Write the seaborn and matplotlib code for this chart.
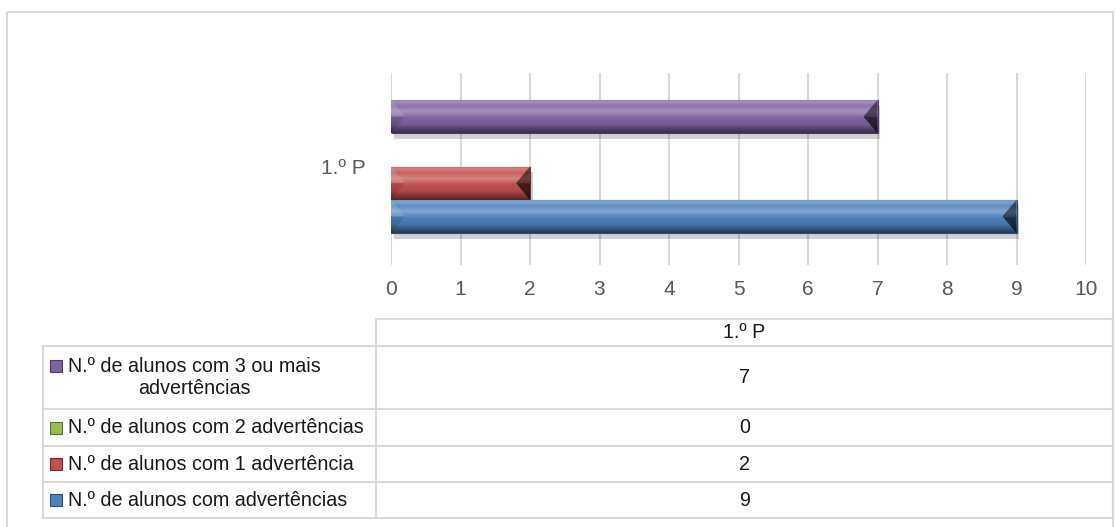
import numpy as np
import pandas as pd
import seaborn as sns
import matplotlib.pyplot as plt
from matplotlib.colors import to_rgb
from matplotlib.patches import Rectangle, Polygon
from matplotlib import patheffects

# data
periods = ["1.º P"]
series = [
    "N.º de alunos com 3 ou mais\nadvertências",
    "N.º de alunos com 2 advertências",
    "N.º de alunos com 1 advertência",
    "N.º de alunos com advertências",
]
values = [7, 0, 2, 9]
colors = ["#8064A2", "#9BBB59", "#C0504D", "#4F81BD"]
x_ticks = list(range(0, 11))

df = pd.DataFrame({
    "period": periods * len(series),
    "series": series,
    "value": values,
})

sns.set_theme(style="white")
plt.rcParams["font.family"] = ["Liberation Sans", "DejaVu Sans"]

W, H = 1116, 527
fig = plt.figure(figsize=(W / 100, H / 100), dpi=100)

# layout layer (border + data table), in pixel coordinates
tab = fig.add_axes([0, 0, 1, 1])
tab.set_xlim(0, W)
tab.set_ylim(H, 0)
tab.axis("off")
grid_c = "#D9D9D9"
tab.add_patch(Rectangle((7, 12), 1106, 520, fill=False, ec=grid_c, lw=1.5))

ax = fig.add_axes([391 / W, 1 - 265 / H, 695 / W, 192 / H])
sns.barplot(
    data=df, x="value", y="period", hue="series", hue_order=series,
    palette=colors, orient="h", width=0.693, saturation=1, legend=False, ax=ax,
)


def shade(c, p):
    c = np.asarray(c[:3], dtype=float)
    return c + (1 - c) * p if p > 0 else c * (1 + p)


xpx = 10 / 695  # data units per pixel on x
for bar in ax.patches:
    w = bar.get_width()
    if w <= 0:
        continue
    base = bar.get_facecolor()
    x0, y0, h = bar.get_x(), bar.get_y(), bar.get_height()
    bar.set_edgecolor(shade(base, -0.4))
    bar.set_linewidth(0.8)
    bar.set_path_effects([
        patheffects.SimplePatchShadow(offset=(2, -4), shadow_rgbFace="k", alpha=0.2),
        patheffects.Normal(),
    ])
    t = np.linspace(0, 1, 80)
    prof = np.interp(t, [0, 0.07, 0.2, 0.36, 0.55, 0.75, 0.88, 1.0],
                     [0.1, 0.28, 0.1, 0.3, 0.0, -0.1, -0.35, -0.55])
    img = np.array([shade(base, p) for p in prof])[:, None, :]
    im = ax.imshow(img, extent=(x0, x0 + w, y0 + h, y0), aspect="auto",
                   origin="upper", interpolation="bilinear", zorder=bar.get_zorder() + 0.1)
    im.set_clip_path(bar)
    d = 14 * xpx
    zb = bar.get_zorder() + 0.2
    ax.add_patch(Polygon([(x0, y0), (x0 + d, y0 + h / 2), (x0, y0 + h / 2)],
                         fc="white", alpha=0.12, lw=0, zorder=zb))
    ax.add_patch(Polygon([(x0, y0 + h / 2), (x0 + d, y0 + h / 2), (x0, y0 + h)],
                         fc="black", alpha=0.1, lw=0, zorder=zb))
    ax.add_patch(Polygon([(x0 + w, y0), (x0 + w - d, y0 + h / 2), (x0 + w, y0 + h / 2)],
                         fc="black", alpha=0.5, lw=0, zorder=zb))
    ax.add_patch(Polygon([(x0 + w, y0 + h / 2), (x0 + w - d, y0 + h / 2), (x0 + w, y0 + h)],
                         fc="black", alpha=0.65, lw=0, zorder=zb))

ax.set_xlim(0, 10)
ax.set_ylim(0.513, -0.487)
ax.set_xticks(x_ticks)
ax.grid(axis="x", color=grid_c, lw=1.5)
ax.grid(axis="y", visible=False)
ax.set_axisbelow(True)
for s in ax.spines.values():
    s.set_visible(False)
ax.patch.set_alpha(0)
ax.set_xlabel("")
ax.set_ylabel("")
ax.tick_params(axis="x", length=0, labelsize=15, labelcolor="#595959", pad=11)
ax.tick_params(axis="y", length=0, labelsize=15, labelcolor="#595959", pad=18)

# data table under the chart
x_left, x_mid, x_right = 43, 376, 1113
y_head, y_rows = 319, [346, 409, 446, 482, 518]
lw = 1.5
tab.plot([x_mid, x_right], [y_head, y_head], color=grid_c, lw=lw)
for y in y_rows:
    tab.plot([x_left, x_right], [y, y], color=grid_c, lw=lw)
tab.plot([x_left, x_left], [y_rows[0], y_rows[-1]], color=grid_c, lw=lw)
tab.plot([x_mid, x_mid], [y_head, y_rows[-1]], color=grid_c, lw=lw)
tab.plot([x_right, x_right], [y_head, y_rows[-1]], color=grid_c, lw=lw)

fs = 14.2
xc = (x_mid + x_right) / 2
tab.text(xc, (y_head + y_rows[0]) / 2, periods[0], ha="center", va="center",
         fontsize=fs, color="#1a1a1a")
line_h = 24
for i, (name, val, col) in enumerate(zip(series, values, colors)):
    yc = (y_rows[i] + y_rows[i + 1]) / 2
    nlines = name.count("\n") + 1
    tab.text(68, yc, name, ha="left", va="center", multialignment="center",
             linespacing=1.2, fontsize=fs, color="#1a1a1a")
    yk = yc - (nlines - 1) * line_h / 2
    tab.add_patch(Rectangle((50, yk - 6), 12, 12, fc=col, ec=shade(to_rgb(col), -0.4), lw=0.8))
    tab.text(xc, yc, str(val), ha="center", va="center", fontsize=fs, color="#1a1a1a")

fig.savefig("out.png", dpi=100)
